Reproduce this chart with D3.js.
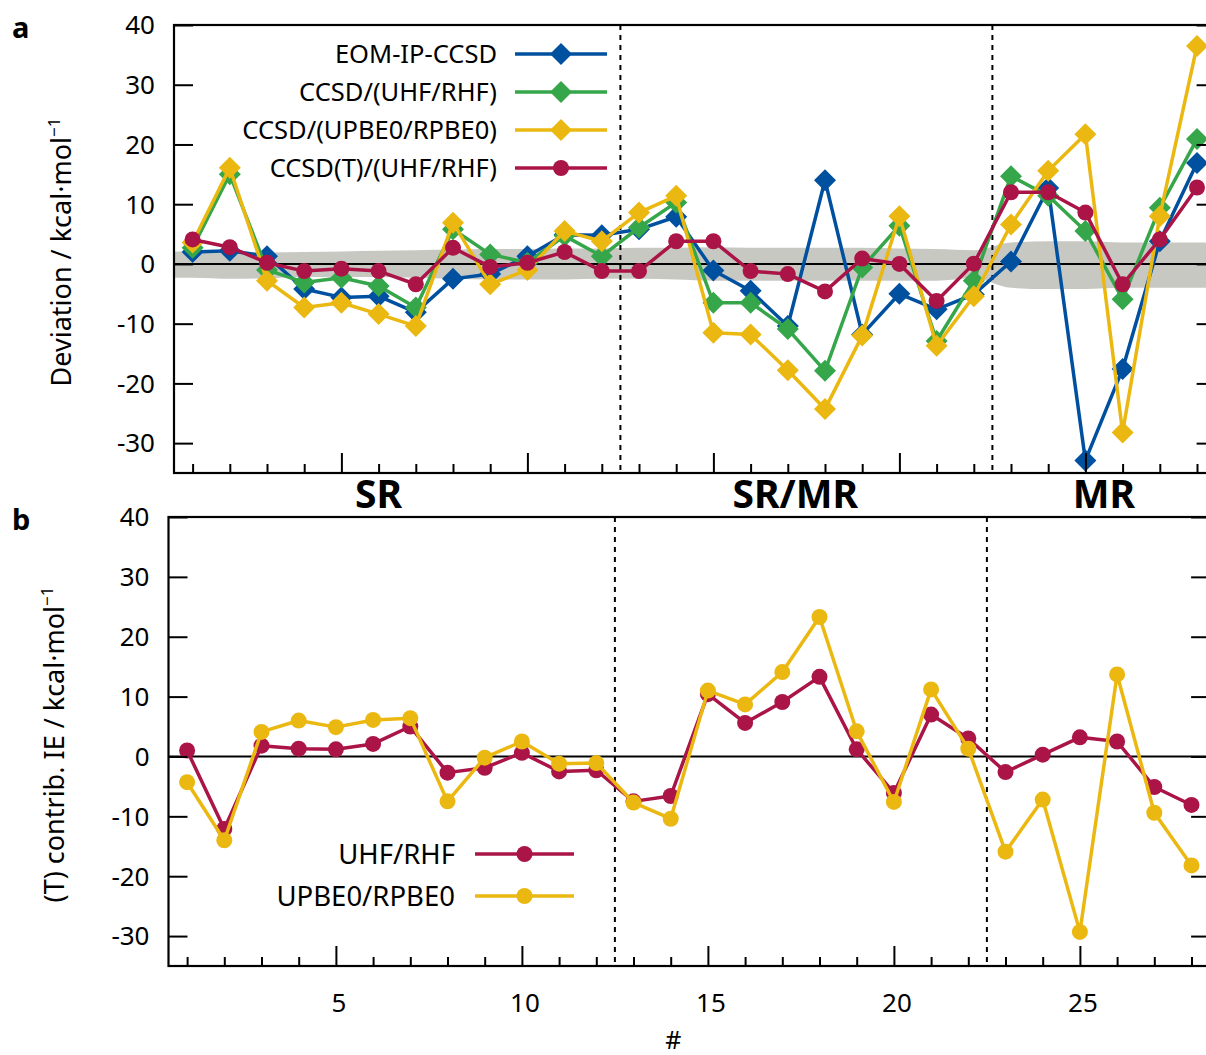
<!DOCTYPE html>
<html>
<head>
<meta charset="utf-8">
<script src="https://cdn.jsdelivr.net/npm/d3@7"></script>
<style>
  html, body { margin: 0; padding: 0; background: #fff; }
  svg { display: block; }
  text { font-family: "Noto Sans", "Open Sans", sans-serif; fill: #000; }
</style>
</head>
<body>
<svg id="chart" width="1206" height="1055"></svg>
<script>
// ── Data ───────────────────────────────────────────────────
const systems = d3.range(1, 29);

// panel a: deviation / kcal·mol-1
const eomIpCcsd   = [2.0, 2.2, 1.3, -4.2, -5.6, -5.4, -8.1, -2.5, -1.7, 1.3, 4.9, 4.8, 5.8, 7.9, -1.1, -4.5, -10.4, 14.0, -11.8, -5.0, -7.6, -5.1, 0.4, 12.7, -32.9, -17.6, 3.8, 16.9];
const ccsdUhf     = [2.7, 15.0, -1.0, -3.1, -2.3, -3.7, -7.3, 5.8, 1.6, 0.2, 4.7, 1.3, 6.1, 10.3, -6.5, -6.5, -10.9, -17.9, -0.6, 6.4, -12.9, -2.8, 14.7, 11.4, 5.5, -5.9, 9.4, 20.9];
const ccsdPbe0    = [3.6, 16.1, -2.8, -7.3, -6.5, -8.4, -10.4, 6.9, -3.4, -1.0, 5.5, 3.8, 8.6, 11.4, -11.5, -11.8, -17.8, -24.3, -12.0, 8.0, -13.7, -5.4, 6.6, 15.6, 21.7, -28.2, 8.0, 36.5];
const ccsdTUhf    = [4.1, 2.8, 0.2, -1.2, -0.8, -1.2, -3.4, 2.7, -0.5, 0.2, 2.0, -1.2, -1.2, 3.8, 3.8, -1.2, -1.7, -4.6, 0.9, 0.0, -6.2, 0.05, 12.0, 12.0, 8.6, -3.4, 4.1, 12.8];

// grey reference band around zero (upper / lower edge per system)
const bandUpper = [2.1, 1.9, 1.9, 2.0, 2.1, 2.2, 2.3, 2.4, 2.5, 2.5, 2.6, 2.6, 2.7, 2.7, 2.8, 2.7, 2.7, 2.7, 2.7, 2.6, 2.5, 2.3, 3.6, 3.8, 3.8, 3.6, 3.6, 3.6];
const bandLower = [-2.3, -2.5, -2.4, -2.2, -2.2, -2.2, -2.3, -2.5, -2.6, -2.6, -2.6, -2.5, -2.5, -2.6, -2.8, -2.8, -2.8, -2.8, -2.8, -2.8, -2.8, -2.4, -4.0, -4.2, -4.2, -4.0, -4.0, -4.0];

// panel b: (T) contribution to IE / kcal·mol-1
const tUhf  = [1.0, -12.1, 1.8, 1.3, 1.2, 2.1, 5.0, -2.7, -1.9, 0.6, -2.5, -2.3, -7.5, -6.6, 10.4, 5.6, 9.1, 13.3, 1.2, -6.1, 7.0, 3.0, -2.6, 0.3, 3.2, 2.5, -5.1, -8.1];
const tPbe0 = [-4.3, -14.0, 4.1, 6.0, 4.9, 6.1, 6.4, -7.5, -0.2, 2.5, -1.2, -1.1, -7.7, -10.4, 11.0, 8.7, 14.1, 23.3, 4.2, -7.6, 11.2, 1.3, -15.9, -7.2, -29.3, 13.7, -9.4, -18.2];

const yTicks = [-30, -20, -10, 0, 10, 20, 30, 40];
const xMajor = [5, 10, 15, 20, 25];
const regionBreaks = [12.5, 22.5];
const regionLabels = [{ text: 'SR', at: 6 }, { text: 'SR/MR', at: 17.2 }, { text: 'MR', at: 25.5 }];

const seriesA = [
  { name: 'EOM-IP-CCSD',        values: eomIpCcsd, color: '#0050a0', marker: 'diamond' },
  { name: 'CCSD/(UHF/RHF)',     values: ccsdUhf,   color: '#35a64a', marker: 'diamond' },
  { name: 'CCSD/(UPBE0/RPBE0)', values: ccsdPbe0,  color: '#ebb811', marker: 'diamond' },
  { name: 'CCSD(T)/(UHF/RHF)',  values: ccsdTUhf,  color: '#aa1447', marker: 'circle' }
];
const seriesB = [
  { name: 'UHF/RHF',     values: tUhf,  color: '#aa1447', marker: 'circle' },
  { name: 'UPBE0/RPBE0', values: tPbe0, color: '#ebb811', marker: 'circle' }
];

// ── Helpers ────────────────────────────────────────────────
const svg = d3.select('#chart');

function drawMarker(g, type, cx, cy, color) {
  if (type === 'diamond') {
    const s = 11;
    g.append('path')
      .attr('d', `M${cx},${cy - s}L${cx + s},${cy}L${cx},${cy + s}L${cx - s},${cy}Z`)
      .attr('fill', color);
  } else {
    g.append('circle').attr('cx', cx).attr('cy', cy).attr('r', 8).attr('fill', color);
  }
}

function drawPanel(opt) {
  const x = d3.scaleLinear().domain([0.5, 28.5]).range([opt.left, opt.left + 28 * 37.2]);
  const y = d3.scaleLinear().domain([-35, 40]).range([opt.bottom, opt.top]);
  const right = x.range()[1];
  const g = svg.append('g');

  // grey band
  if (opt.band) {
    const pts = systems.map((s, i) => ({ x: s, hi: bandUpper[i], lo: bandLower[i] }));
    pts.unshift({ x: 0.5, hi: bandUpper[0], lo: bandLower[0] });
    pts.push({ x: 28.5, hi: bandUpper[27], lo: bandLower[27] });
    g.append('path')
      .datum(pts)
      .attr('d', d3.area().x(d => x(d.x)).y0(d => y(d.lo)).y1(d => y(d.hi)).curve(d3.curveMonotoneX))
      .attr('fill', '#c8c8c3');
  }

  // zero line
  g.append('line')
    .attr('x1', opt.left).attr('x2', right)
    .attr('y1', y(0)).attr('y2', y(0))
    .attr('stroke', '#000').attr('stroke-width', 2);

  // region separators
  regionBreaks.forEach(b => {
    g.append('line')
      .attr('x1', x(b)).attr('x2', x(b))
      .attr('y1', opt.top).attr('y2', opt.bottom)
      .attr('stroke', '#000').attr('stroke-width', 2)
      .attr('stroke-dasharray', '5,5');
  });

  // series
  opt.series.forEach(s => {
    const sg = g.append('g');
    sg.append('path')
      .datum(s.values)
      .attr('d', d3.line().x((d, i) => x(systems[i])).y(d => y(d)))
      .attr('fill', 'none')
      .attr('stroke', s.color)
      .attr('stroke-width', 3.5)
      .attr('stroke-linejoin', 'round');
    s.values.forEach((v, i) => drawMarker(sg, s.marker, x(systems[i]), y(v), s.color));
  });

  // frame
  g.append('rect')
    .attr('x', opt.left).attr('y', opt.top)
    .attr('width', right - opt.left).attr('height', opt.bottom - opt.top)
    .attr('fill', 'none').attr('stroke', '#000').attr('stroke-width', 2.2);

  // y axis (left + right ticks)
  const yLeft = g.append('g')
    .attr('transform', `translate(${opt.left},0)`)
    .call(d3.axisRight(y).tickValues(yTicks).tickSize(19).tickFormat(''));
  const yRight = g.append('g')
    .attr('transform', `translate(${right},0)`)
    .call(d3.axisLeft(y).tickValues(yTicks).tickSize(19).tickFormat(''));
  [yLeft, yRight].forEach(a => {
    a.select('.domain').remove();
    a.selectAll('line').attr('stroke-width', 2);
  });
  yTicks.forEach(t => {
    g.append('text')
      .attr('x', opt.left - 19).attr('y', y(t)).attr('dy', '0.36em')
      .attr('text-anchor', 'end').attr('font-size', 26)
      .text(t);
  });

  // x axis minor + major ticks
  const minor = systems.filter(s => s % 5 !== 0);
  const xMin = g.append('g')
    .attr('transform', `translate(0,${opt.bottom})`)
    .call(d3.axisTop(x).tickValues(minor).tickSize(9).tickFormat(''));
  const xMaj = g.append('g')
    .attr('transform', `translate(0,${opt.bottom})`)
    .call(d3.axisTop(x).tickValues(xMajor).tickSize(20).tickFormat(''));
  [xMin, xMaj].forEach(a => {
    a.select('.domain').remove();
    a.selectAll('line').attr('stroke-width', 2);
  });
  if (opt.xLabels) {
    xMajor.forEach(t => {
      g.append('text')
        .attr('x', x(t) + 3).attr('y', opt.bottom + 46)
        .attr('text-anchor', 'middle').attr('font-size', 26)
        .text(t);
    });
    g.append('text')
      .attr('x', x(14.5) - 16).attr('y', opt.bottom + 83)
      .attr('text-anchor', 'middle').attr('font-size', 25)
      .text('#');
  }
  if (opt.regions) {
    regionLabels.forEach(r => {
      g.append('text')
        .attr('x', x(r.at)).attr('y', opt.bottom + 35)
        .attr('text-anchor', 'middle')
        .attr('font-family', '"Liberation Sans", Arial, sans-serif')
        .attr('font-weight', 'bold').attr('font-size', 39)
        .text(r.text);
    });
  }

  // y label
  const yl = g.append('text')
    .attr('transform', `translate(${opt.yLabelX},${(opt.top + opt.bottom) / 2 + 3}) rotate(-90)`)
    .attr('text-anchor', 'middle').attr('font-size', 27);
  yl.append('tspan').text(opt.yLabel);
  yl.append('tspan').attr('dy', -11).attr('font-size', 17).text('−1');

  // panel letter
  g.append('text')
    .attr('x', 12).attr('y', opt.top + 13)
    .attr('font-family', '"Liberation Sans", Arial, sans-serif')
    .attr('font-weight', 'bold').attr('font-size', 29)
    .text(opt.letter);

  // legend
  opt.series.forEach((s, i) => {
    const ly = opt.legend.y + i * opt.legend.dy;
    g.append('text')
      .attr('x', opt.legend.textX).attr('y', ly).attr('dy', '0.36em')
      .attr('text-anchor', 'end').attr('font-size', opt.legend.size)
      .text(s.name);
    g.append('line')
      .attr('x1', opt.legend.x1).attr('x2', opt.legend.x2)
      .attr('y1', ly).attr('y2', ly)
      .attr('stroke', s.color).attr('stroke-width', 3.5);
    drawMarker(g, s.marker, (opt.legend.x1 + opt.legend.x2) / 2, ly, s.color);
  });
}

// ── Panels ─────────────────────────────────────────────────
drawPanel({
  letter: 'a', left: 174, top: 25, bottom: 473,
  series: seriesA, band: true, regions: true, xLabels: false,
  yLabel: 'Deviation / kcal·mol', yLabelX: 71,
  legend: { y: 54, dy: 38, textX: 497, x1: 515, x2: 607, size: 25.5 }
});

drawPanel({
  letter: 'b', left: 168.5, top: 517, bottom: 966,
  series: seriesB, band: false, regions: false, xLabels: true,
  yLabel: '(T) contrib. IE / kcal·mol', yLabelX: 64,
  legend: { y: 854, dy: 42, textX: 455, x1: 475, x2: 574, size: 27.5 }
});
</script>
</body>
</html>
